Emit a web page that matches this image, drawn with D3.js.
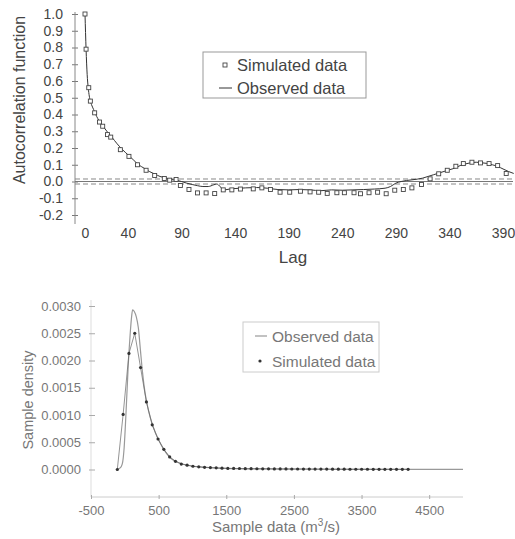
<!DOCTYPE html>
<html>
<head>
<meta charset="utf-8">
<script src="https://cdn.jsdelivr.net/npm/d3@7"></script>
<style>
  body { margin: 0; background: #fff; }
  svg { font-family: "Liberation Sans", Arial, sans-serif; }
</style>
</head>
<body>
<div id="chart-area"></div>
<script>
let width = 515,
    height = 539;

// ---- top chart data (autocorrelation) ----
let acfObsLag = [0,1,2,3,4,5,6,8,10,12,15,18,21,25,30,35,40,45,50,55,60,65,70,75,80,85,90,95,100,105,110,115,120,123,126,130,135,140,145,150,160,170,180,190,200,210,220,230,240,250,260,270,280,285,290,295,300,305,310,315,320,325,330,335,340,345,350,355,360,365,370,375,380,385,390,395,400];
let acfObsVal = [1.0,0.79,0.64,0.56,0.51,0.48,0.46,0.43,0.40,0.375,0.345,0.32,0.295,0.265,0.225,0.19,0.16,0.13,0.10,0.08,0.06,0.045,0.03,0.022,0.012,0.008,0.0,-0.01,-0.018,-0.025,-0.03,-0.03,-0.02,-0.015,-0.03,-0.05,-0.045,-0.042,-0.04,-0.038,-0.036,-0.04,-0.048,-0.05,-0.048,-0.05,-0.055,-0.05,-0.052,-0.05,-0.048,-0.045,-0.04,-0.03,-0.01,0.0,0.006,0.01,0.014,0.02,0.03,0.04,0.05,0.06,0.07,0.08,0.095,0.105,0.112,0.115,0.112,0.108,0.1,0.09,0.075,0.06,0.048];

let acfSimLag = [0,1,3.5,5,9,13.5,16.5,21,24,33,41,49,57,65,74,79,85,89,97,105,113,121,129,137,145,157,165,173,182,191,201,210,218,226,235,242,251,257,265,273,281,289,297,305,314,322,330,338,346,353,361,369,377,385,393];
let acfSimVal = [1.0,0.79,0.56,0.48,0.41,0.355,0.33,0.28,0.265,0.19,0.15,0.10,0.067,0.036,0.018,0.008,0.012,-0.024,-0.048,-0.068,-0.068,-0.072,-0.05,-0.05,-0.045,-0.044,-0.038,-0.048,-0.064,-0.064,-0.058,-0.062,-0.064,-0.071,-0.067,-0.067,-0.067,-0.073,-0.067,-0.064,-0.073,-0.052,-0.048,-0.038,-0.018,0.016,0.046,0.067,0.091,0.107,0.115,0.111,0.107,0.095,0.048];

let acfBand = 0.015;
let acfYTicks = [-0.2,-0.1,0.0,0.1,0.2,0.3,0.4,0.5,0.6,0.7,0.8,0.9,1.0];
let lagTicks = [0,40,90,140,190,240,290,340,390];

// ---- bottom chart data (sample density) ----
let densObsX = [-130,-80,-50,-30,-10,20,50,80,100,115,140,170,200,230,260,300,350,420,500,580,660,750,850,1000,1200,1500,2000,3000,4000,5000];
let densObsY = [0,0.00002,0.00006,0.00015,0.0004,0.0011,0.0019,0.0025,0.0028,0.00293,0.0029,0.0028,0.0026,0.0022,0.0018,0.0014,0.00108,0.00078,0.00054,0.00036,0.00023,0.00015,0.0001,0.00006,0.00004,0.00002,0.00001,0.000005,0.000003,0.000002];

let densSimX = [-111,-25,61,147,233,319,405,491,577,663,749,835,921,1007,1093,1179,1265,1351,1437,1523,1609,1695,1781,1867,1953,2039,2125,2211,2297,2383,2469,2555,2641,2727,2813,2899,2985,3071,3157,3243,3329,3415,3501,3587,3673,3759,3845,3931,4017,4103,4189];
let densSimY = [0,0.00101,0.00213,0.0025,0.00187,0.00124,0.00082,0.00056,0.00037,0.00023,0.00015,0.0001,0.00008,0.00006,0.00005,0.00004,0.000035,0.00003,0.000025,0.00002,0.00002,0.000018,0.000016,0.000015,0.000014,0.000013,0.000012,0.000011,0.00001,0.00001,0.000009,0.000009,0.000008,0.000008,0.000007,0.000007,0.000007,0.000006,0.000006,0.000006,0.000005,0.000005,0.000005,0.000005,0.000004,0.000004,0.000004,0.000004,0.000003,0.000003,0.000003];

let densYTicks = [0,0.0005,0.001,0.0015,0.002,0.0025,0.003];
let sampleTicks = [-500,500,1500,2500,3500,4500];

let svg = d3.select("#chart-area").append("svg")
    .attr("width", width)
    .attr("height", height);

// ================= TOP CHART =================
let xLag = d3.scaleLinear().domain([0, 390]).range([85, 503]);
let yAcf = d3.scaleLinear().domain([-0.2, 1]).range([215, 14]);

let gTop = svg.append("g");

// y axis
let yAxT = gTop.append("g")
  .attr("transform", "translate(75,0)")
  .call(d3.axisLeft(yAcf).tickValues(acfYTicks).tickFormat(d => d.toFixed(1)).tickSize(3).tickPadding(9));
yAxT.select(".domain").remove();
yAxT.selectAll(".tick line").attr("x1", 3).attr("stroke", "#777");
yAxT.selectAll("text").attr("font-size", 14).attr("fill", "#444").attr("font-family", "Liberation Sans, Arial");
gTop.append("line")
  .attr("x1", 75).attr("x2", 75).attr("y1", 12).attr("y2", 224)
  .attr("stroke", "#888");

// x axis labels only
let xAxT = gTop.append("g")
  .attr("transform", "translate(0,222)")
  .call(d3.axisBottom(xLag).tickValues(lagTicks).tickFormat(d => String(d)).tickSize(0).tickPadding(6));
xAxT.select(".domain").remove();
xAxT.selectAll("text").attr("font-size", 14).attr("fill", "#444").attr("font-family", "Liberation Sans, Arial");

// zero line and confidence band
gTop.append("line")
  .attr("x1", 75).attr("x2", 513)
  .attr("y1", yAcf(0)).attr("y2", yAcf(0))
  .attr("stroke", "#777");
[acfBand, -acfBand].forEach(b => {
  gTop.append("line")
    .attr("x1", 75).attr("x2", 513)
    .attr("y1", yAcf(b)).attr("y2", yAcf(b))
    .attr("stroke", "#888")
    .attr("stroke-dasharray", "5,3");
});

// observed line
let acfObs = acfObsLag.map((l, i) => ({lag: l, v: acfObsVal[i]}));
let acfSim = acfSimLag.map((l, i) => ({lag: l, v: acfSimVal[i]}));

gTop.append("path")
  .datum(acfObs)
  .attr("fill", "none")
  .attr("stroke", "#333")
  .attr("stroke-width", 1)
  .attr("d", d3.line().x(d => xLag(d.lag)).y(d => yAcf(d.v)).curve(d3.curveMonotoneX));

// simulated squares
gTop.selectAll(".sq")
  .data(acfSim)
  .enter().append("rect")
  .attr("class", "sq")
  .attr("x", d => xLag(d.lag) - 2)
  .attr("y", d => yAcf(d.v) - 2)
  .attr("width", 4).attr("height", 4)
  .attr("fill", "#fff")
  .attr("stroke", "#444")
  .attr("stroke-width", 0.9);

// labels
gTop.append("text")
  .attr("transform", "translate(25,100) rotate(-90)")
  .attr("text-anchor", "middle")
  .attr("font-size", 16)
  .attr("fill", "#444")
  .text("Autocorrelation function");
gTop.append("text")
  .attr("x", 293).attr("y", 263)
  .attr("text-anchor", "middle")
  .attr("font-size", 17)
  .attr("fill", "#444")
  .text("Lag");

// legend
let lgT = gTop.append("g");
lgT.append("rect")
  .attr("x", 203).attr("y", 52).attr("width", 163).attr("height", 46)
  .attr("fill", "#fff").attr("stroke", "#999");
lgT.append("rect")
  .attr("x", 223).attr("y", 63).attr("width", 4).attr("height", 4)
  .attr("fill", "#fff").attr("stroke", "#444").attr("stroke-width", 0.9);
lgT.append("line")
  .attr("x1", 219).attr("x2", 232).attr("y1", 88).attr("y2", 88)
  .attr("stroke", "#333");
lgT.append("text").attr("x", 237).attr("y", 71).attr("font-size", 16.5).attr("fill", "#444").text("Simulated data");
lgT.append("text").attr("x", 237).attr("y", 94).attr("font-size", 16.5).attr("fill", "#444").text("Observed data");

// ================= BOTTOM CHART =================
let xS = d3.scaleLinear().domain([-500, 5000]).range([91, 463]);
let yD = d3.scaleLinear().domain([0, 0.003]).range([469.5, 306]);

let gBot = svg.append("g");

// axis lines (faint)
gBot.append("line")
  .attr("x1", 91).attr("x2", 91).attr("y1", 300).attr("y2", 497)
  .attr("stroke", "#ddd");
gBot.append("line")
  .attr("x1", 91).attr("x2", 463).attr("y1", 497).attr("y2", 497)
  .attr("stroke", "#ccc");

let yAxB = gBot.append("g")
  .attr("transform", "translate(91,0)")
  .call(d3.axisLeft(yD).tickValues(densYTicks).tickFormat(d => d.toFixed(4)).tickSize(2).tickPadding(8));
yAxB.select(".domain").remove();
yAxB.selectAll(".tick line").attr("x1", 4).attr("stroke", "#aaa");
yAxB.selectAll("text").attr("font-size", 13).attr("fill", "#777").attr("font-family", "Liberation Sans, Arial");

let xAxB = gBot.append("g")
  .attr("transform", "translate(0,497)")
  .call(d3.axisBottom(xS).tickValues(sampleTicks).tickFormat(d => String(d)).tickSize(2).tickPadding(7));
xAxB.select(".domain").remove();
xAxB.selectAll(".tick line").attr("y1", -2).attr("stroke", "#aaa");
xAxB.selectAll("text").attr("font-size", 13).attr("fill", "#777").attr("font-family", "Liberation Sans, Arial");

let densObs = densObsX.map((x, i) => ({x: x, y: densObsY[i]}));
let densSim = densSimX.map((x, i) => ({x: x, y: densSimY[i]}));

// observed (gray line)
gBot.append("path")
  .datum(densObs)
  .attr("fill", "none")
  .attr("stroke", "#999")
  .attr("stroke-width", 1.2)
  .attr("d", d3.line().x(d => xS(d.x)).y(d => yD(d.y)).curve(d3.curveMonotoneX));

// simulated (thin line + dots)
gBot.append("path")
  .datum(densSim)
  .attr("fill", "none")
  .attr("stroke", "#666")
  .attr("stroke-width", 0.7)
  .attr("d", d3.line().x(d => xS(d.x)).y(d => yD(d.y)));

gBot.selectAll(".dot")
  .data(densSim)
  .enter().append("circle")
  .attr("class", "dot")
  .attr("cx", d => xS(d.x))
  .attr("cy", d => yD(d.y))
  .attr("r", 1.6)
  .attr("fill", "#333");

// labels
gBot.append("text")
  .attr("transform", "translate(33,400) rotate(-90)")
  .attr("text-anchor", "middle")
  .attr("font-size", 14.5)
  .attr("fill", "#777")
  .text("Sample density");

let xl = gBot.append("text")
  .attr("x", 276).attr("y", 532)
  .attr("text-anchor", "middle")
  .attr("font-size", 15)
  .attr("fill", "#777");
xl.append("tspan").text("Sample data (m");
xl.append("tspan").attr("font-size", 10).attr("dy", -6).text("3");
xl.append("tspan").attr("dy", 6).text("/s)");

// legend
let lgB = gBot.append("g");
lgB.append("rect")
  .attr("x", 243).attr("y", 322).attr("width", 136).attr("height", 50)
  .attr("fill", "#fff").attr("stroke", "#ccc");
lgB.append("line")
  .attr("x1", 255).attr("x2", 267).attr("y1", 336).attr("y2", 336)
  .attr("stroke", "#999").attr("stroke-width", 1.2);
lgB.append("circle")
  .attr("cx", 260).attr("cy", 361).attr("r", 1.6).attr("fill", "#333");
lgB.append("text").attr("x", 272).attr("y", 342).attr("font-size", 15.5).attr("fill", "#777").text("Observed data");
lgB.append("text").attr("x", 272).attr("y", 367).attr("font-size", 15.5).attr("fill", "#777").text("Simulated data");
</script>
</body>
</html>
